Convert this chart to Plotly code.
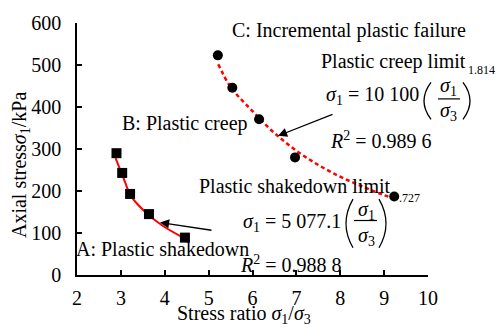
import plotly.graph_objects as go

# ---- data ----
shake_x = [2.90, 3.03, 3.21, 3.64, 4.46]
shake_y = [290, 243, 193, 145, 89]

creep_x = [5.21, 5.54, 6.15, 6.97, 9.23]
creep_y = [523, 446, 371, 280, 187]

fitA_x = [2.88, 3.0, 3.1, 3.2, 3.35, 3.6, 3.97, 4.42]
fitA_y = [278, 246, 220, 193, 172, 146, 116, 89]

fitC_x = [5.22, 5.5, 6.0, 6.5, 7.0, 7.5, 8.0, 8.5, 9.0, 9.3]
fitC_y = [502, 448, 390, 338, 296, 262, 234, 211, 190, 180]

x_ticks = [2, 3, 4, 5, 6, 7, 8, 9, 10]
y_ticks = [0, 100, 200, 300, 400, 500, 600]

# ---- layout geometry (pixels) ----
W, H = 497, 327
L, R, T, B = 77, 428, 16, 275


def px(x):
    return (x - L) / (R - L)


def py(y):
    return (B - y) / (B - T)


FONT = "Times New Roman, Liberation Serif, Times, serif"

fig = go.Figure()
fig.add_trace(go.Scatter(x=fitA_x, y=fitA_y, mode="lines", line_shape="spline",
                         line=dict(color="#ff0000", width=2), showlegend=False))
fig.add_trace(go.Scatter(x=fitC_x, y=fitC_y, mode="lines", line_shape="spline",
                         line=dict(color="#ff0000", width=2.5, dash="4px,3px"), showlegend=False))
fig.add_trace(go.Scatter(x=shake_x, y=shake_y, mode="markers",
                         marker=dict(symbol="square", size=10, color="black"), showlegend=False))
fig.add_trace(go.Scatter(x=creep_x, y=creep_y, mode="markers",
                         marker=dict(symbol="circle", size=10, color="black"), showlegend=False))

ann = []


def text(s, x, y, size=20, xanchor="center"):
    ann.append(dict(text=s, x=px(x), y=py(y), xref="paper", yref="paper",
                    xanchor=xanchor, yanchor="middle", showarrow=False,
                    font=dict(family=FONT, size=size, color="black")))


def arrow(tip, tail):
    ann.append(dict(text="", x=px(tip[0]), y=py(tip[1]), xref="paper", yref="paper",
                    ax=tail[0] - tip[0], ay=tail[1] - tip[1], axref="pixel", ayref="pixel",
                    showarrow=True, arrowhead=2, arrowsize=1.4, arrowwidth=1.3,
                    arrowcolor="black"))


S1 = "<i>σ</i><sub>1</sub>"
S3 = "<i>σ</i><sub>3</sub>"

text("C: Incremental plastic failure", 349, 24)
text("Plastic creep limit", 393, 56)
text("1.814", 481, 64, size=12)
text(S1 + " = 10 100", 421, 91, xanchor="right")
text(S1, 448, 81)
text(S3, 448, 107)
text("<i>R</i><sup>2</sup> = 0.989 6", 328, 136, xanchor="left")

text("Plastic shakedown limit", 295, 184)
text(".727", 409, 196, size=12)
text(S1 + " = 5 077.1", 343, 221, xanchor="right")
text(S1, 366, 209)
text(S3, 366, 235)
text("<i>R</i><sup>2</sup> = 0.988 8", 238, 264, xanchor="left")

text("B: Plastic creep", 120, 119, xanchor="left")
text("A: Plastic shakedown", 74, 248, xanchor="left")

arrow((278, 132), (334, 110))
arrow((160, 221), (213, 229))

# axis titles
text("Stress ratio " + S1 + "/" + S3, 244, 316)
ann.append(dict(text="Axial stress" + S1 + "/kPa", x=px(20), y=py(162), xref="paper", yref="paper",
                xanchor="center", yanchor="middle", showarrow=False, textangle=-90,
                font=dict(family=FONT, size=20, color="black")))

shapes = []


def line_px(x0, y0, x1, y1):
    shapes.append(dict(type="line", xref="paper", yref="paper",
                       x0=px(x0), y0=py(y0), x1=px(x1), y1=py(y1),
                       line=dict(color="black", width=1.2)))


def paren(x_edge, y0, y1, bow):
    # bow < 0 -> "(" ; bow > 0 -> ")"
    ym = (y0 + y1) / 2
    path = "M {} {} Q {} {} {} {}".format(px(x_edge), py(y0), px(x_edge + 2 * bow), py(ym),
                                          px(x_edge), py(y1))
    shapes.append(dict(type="path", xref="paper", yref="paper", path=path,
                       line=dict(color="black", width=1.3)))


# equation 1 fraction
line_px(438, 94, 460, 94)
paren(431, 77, 115, -7)
paren(463, 77, 115, 7)
# equation 2 fraction
line_px(354, 219, 377, 219)
paren(353, 197, 247, -7)
paren(379, 197, 247, 7)

fig.update_layout(
    width=W, height=H,
    margin=dict(l=L, r=W - R, t=T, b=H - B, pad=0),
    plot_bgcolor="white", paper_bgcolor="white",
    font=dict(family=FONT, size=20, color="black"),
    annotations=ann, shapes=shapes,
    xaxis=dict(range=[2, 10], tickvals=x_ticks, ticks="inside", ticklen=5, tickwidth=1.5,
               tickcolor="black", showline=True, linecolor="black", linewidth=1.5,
               showgrid=False, zeroline=False, ticklabelstandoff=4,
               tickfont=dict(family=FONT, size=20, color="black")),
    yaxis=dict(range=[0, 600], tickvals=y_ticks, ticks="inside", ticklen=5, tickwidth=1.5,
               tickcolor="black", showline=True, linecolor="black", linewidth=1.5,
               showgrid=False, zeroline=False, ticklabelstandoff=10,
               tickfont=dict(family=FONT, size=20, color="black")),
)

fig.write_html("out.html")
